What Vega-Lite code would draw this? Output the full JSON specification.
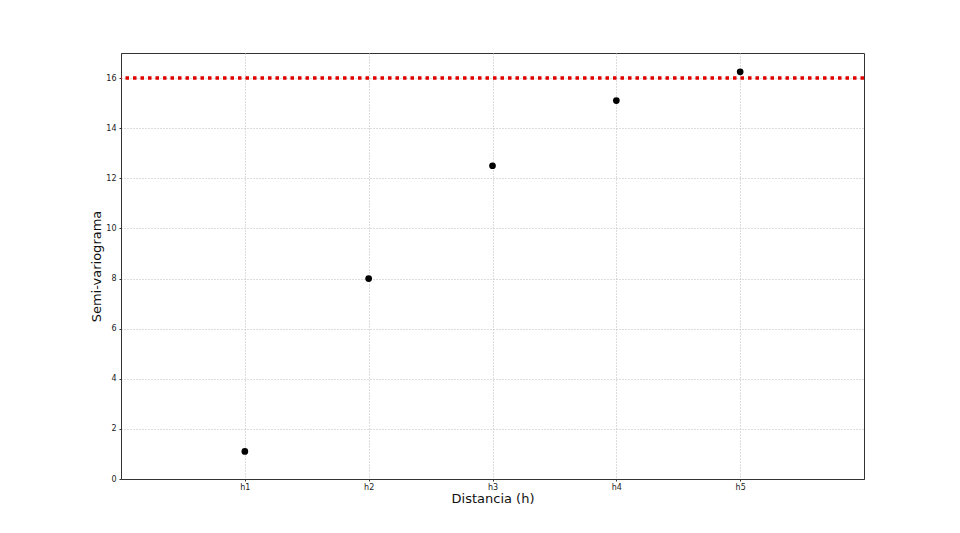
{
  "$schema": "https://vega.github.io/schema/vega-lite/v6.json",
  "width": 743,
  "height": 426,
  "autosize": {"type": "none"},
  "padding": {"left": 121, "top": 53, "right": 96, "bottom": 54},
  "background": "white",
  "config": {
    "view": {"stroke": "#333333", "strokeWidth": 1},
    "font": "DejaVu Sans"
  },
  "datasets": {
    "pts": [
      {"lag": 1, "semivariograma": 1.1},
      {"lag": 2, "semivariograma": 8.0},
      {"lag": 3, "semivariograma": 12.5},
      {"lag": 4, "semivariograma": 15.1},
      {"lag": 5, "semivariograma": 16.25}
    ],
    "sill": [{"meseta": 16}]
  },
  "layer": [
    {
      "data": {"name": "pts"},
      "mark": {"type": "point", "filled": true, "color": "black", "size": 45, "opacity": 1},
      "encoding": {
        "x": {
          "field": "lag", "type": "quantitative",
          "scale": {"domain": [0, 6], "nice": false, "zero": false},
          "axis": {
            "title": "Distancia (h)", "titleFontSize": 13, "titleFontWeight": "normal", "titleColor": "#111", "titlePadding": 1,
            "values": [1, 2, 3, 4, 5], "labelExpr": "'h' + datum.value",
            "labelFontSize": 8, "labelColor": "#222", "labelPadding": 2,
            "grid": true, "gridDash": [1, 2], "gridColor": "#bbbbbb",
            "domain": true, "domainColor": "#333", "tickColor": "#333", "tickSize": 2, "ticks": true
          }
        },
        "y": {
          "field": "semivariograma", "type": "quantitative",
          "scale": {"domain": [0, 17], "nice": false},
          "axis": {
            "title": "Semi-variograma", "titleFontSize": 13, "titleFontWeight": "normal", "titleColor": "#111", "titlePadding": 2,
            "values": [0, 2, 4, 6, 8, 10, 12, 14, 16],
            "labelFontSize": 8, "labelColor": "#222", "labelPadding": 3,
            "grid": true, "gridDash": [1, 2], "gridColor": "#bbbbbb",
            "domain": true, "domainColor": "#333", "tickColor": "#333", "tickSize": 2
          }
        }
      }
    },
    {
      "data": {"name": "sill"},
      "mark": {"type": "rule", "color": "#e00000", "strokeWidth": 3.5, "strokeDash": [3.5, 4]},
      "encoding": {
        "y": {"field": "meseta", "type": "quantitative"}
      }
    }
  ]
}
